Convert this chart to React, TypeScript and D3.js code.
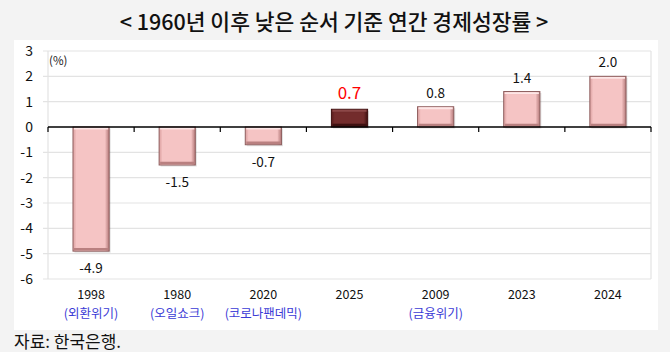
import React from "react";
import * as d3 from "d3";

const years = ["1998", "1980", "2020", "2025", "2009", "2023", "2024"];
const events = ["(외환위기)", "(오일쇼크)", "(코로나팬데믹)", "", "(금융위기)", "", ""];
const growth = [-4.9, -1.5, -0.7, 0.7, 0.8, 1.4, 2.0];
const yTicks = [3, 2, 1, 0, -1, -2, -3, -4, -5, -6];
const highlightYear = "2025";

const W = 670;
const H = 352;
const plot = { left: 48, right: 651, top: 51, bottom: 279 };
const font = "'Noto Sans CJK KR', 'Noto Sans', sans-serif";

const App: React.FC = () => {
  const x = d3.scaleBand<string>()
    .domain(years)
    .range([plot.left, plot.right])
    .paddingInner(0.58)
    .paddingOuter(0.29);
  const band = (plot.right - plot.left) / years.length;
  const y = d3.scaleLinear().domain([-6, 3]).range([plot.bottom, plot.top]);

  return (
    <svg width={W} height={H} style={{ position: "absolute", left: 0, top: 0, background: "#f3f3f3" }}>
      <defs>
        <linearGradient id="pinkEdge" x1="0" y1="0" x2="1" y2="0">
          <stop offset="0" stopColor="#dca0a0" />
          <stop offset="0.1" stopColor="#f4c3c3" />
          <stop offset="0.88" stopColor="#f4c3c3" />
          <stop offset="1" stopColor="#b57a7a" />
        </linearGradient>
        <linearGradient id="darkEdge" x1="0" y1="0" x2="1" y2="0">
          <stop offset="0" stopColor="#5a1c1c" />
          <stop offset="0.08" stopColor="#6e2a2a" />
          <stop offset="0.9" stopColor="#6e2a2a" />
          <stop offset="1" stopColor="#3e1010" />
        </linearGradient>
      </defs>

      <text x={334} y={30} textAnchor="middle" fontFamily={font} fontSize={21.5} fontWeight={500} fill="#111">
        {"< 1960년 이후 낮은 순서 기준 연간 경제성장률 >"}
      </text>

      <rect x={14} y={40} width={644} height={290} fill="#ffffff" />

      {yTicks.filter((t) => t !== 0).map((t) => (
        <line key={"g" + t} x1={plot.left - 5} x2={plot.right} y1={y(t)} y2={y(t)} stroke="#e3e3e3" strokeWidth={1.2} />
      ))}
      <line x1={plot.left} x2={plot.left} y1={plot.top} y2={plot.bottom} stroke="#e3e3e3" strokeWidth={1.2} />
      <line x1={plot.right} x2={plot.right} y1={plot.top} y2={plot.bottom} stroke="#e3e3e3" strokeWidth={1.2} />

      {yTicks.map((t) => (
        <text key={"t" + t} x={33} y={y(t) + 5} textAnchor="end" fontFamily={font} fontSize={14} fill="#111">
          {t}
        </text>
      ))}
      <text x={49} y={65} fontFamily={font} fontSize={11.5} fill="#222">(%)</text>

      {years.map((yr, i) => {
        const v = growth[i];
        const bx = x(yr) as number;
        const bw = x.bandwidth();
        const top = y(Math.max(0, v));
        const bh = Math.abs(y(v) - y(0));
        const dark = yr === highlightYear;
        return (
          <g key={yr}>
            <rect x={bx + 1.5} y={top + 1.5} width={bw} height={bh} fill="#000" opacity={0.12} />
            <rect x={bx} y={top} width={bw} height={bh} fill={dark ? "url(#darkEdge)" : "url(#pinkEdge)"}
              stroke={dark ? "#3e1010" : "#8e5e5e"} strokeWidth={1} />
            <rect x={bx + 3} y={top + 3} width={bw - 7} height={Math.max(0, bh - 7)}
              fill={dark ? "#732c2c" : "#f5c4c4"} />
            <line x1={bx + 1} x2={bx + bw - 1} y1={top + 1.5} y2={top + 1.5}
              stroke={dark ? "#8d4848" : "#fde6e6"} strokeWidth={1.8} />
            <line x1={bx + 1} x2={bx + bw - 1} y1={top + bh - 2} y2={top + bh - 2}
              stroke={dark ? "#3e1010" : "#b98080"} strokeWidth={2.5} />
            <text x={bx + bw / 2} y={v < 0 ? y(v) + 22 : y(v) - (dark ? 10 : 9)} textAnchor="middle"
              fontFamily={font} fontSize={dark ? 17 : 13.5} fill={dark ? "#ff0000" : "#111"}>
              {v.toFixed(1)}
            </text>
            <text x={bx + bw / 2} y={299} textAnchor="middle" fontFamily={font} fontSize={12.5} fill="#111">
              {yr}
            </text>
            {events[i] && (
              <text x={bx + bw / 2} y={318} textAnchor="middle" fontFamily={font} fontSize={12.5} fill="#3b3bd6">
                {events[i]}
              </text>
            )}
          </g>
        );
      })}

      <line x1={plot.left} x2={plot.right} y1={y(0)} y2={y(0)} stroke="#000" strokeWidth={1.5} />
      {d3.range(years.length + 1).map((k) => (
        <line key={"k" + k} x1={plot.left + k * band} x2={plot.left + k * band} y1={y(0)} y2={y(0) + 5}
          stroke="#000" strokeWidth={1.2} />
      ))}

      <text x={14} y={348} fontFamily={font} fontSize={17} fill="#111">자료: 한국은행.</text>
    </svg>
  );
};

export default App;
